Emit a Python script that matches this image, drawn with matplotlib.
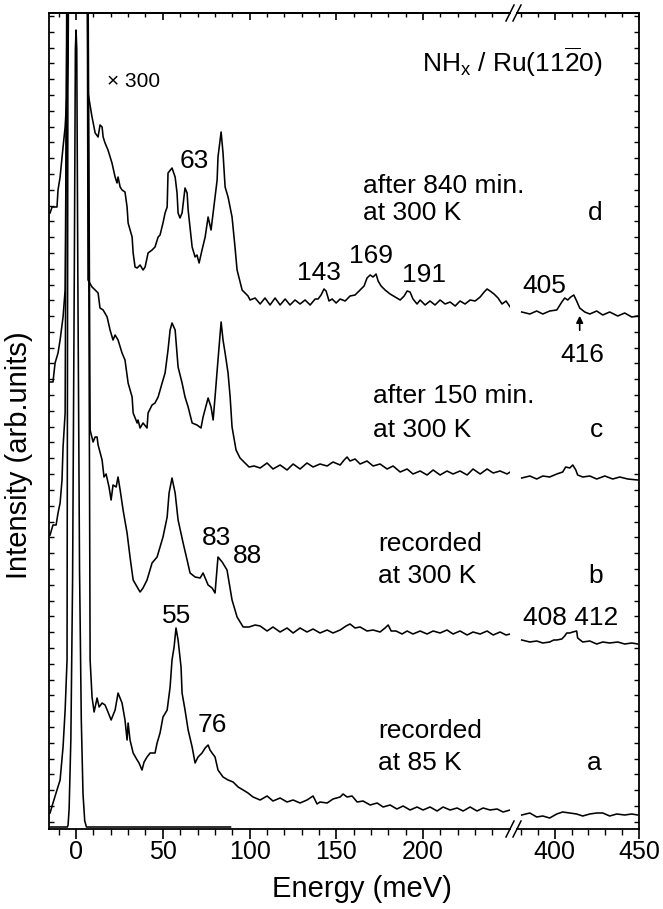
import matplotlib
matplotlib.use("Agg")
import matplotlib.pyplot as plt
from matplotlib.lines import Line2D
import numpy as np

plt.rcParams['font.family'] = ['Liberation Sans', 'DejaVu Sans']
plt.rcParams['mathtext.fontset'] = 'custom'
plt.rcParams['mathtext.rm'] = 'Liberation Sans'
plt.rcParams['mathtext.it'] = 'Liberation Sans:italic'

# ---------------- data (energy in meV, intensity in arb. units) ----------------
# elastic peak, unscaled (x1)
el_E = [-15.6, -5.0, -4.6, -4.0, -3.0, -2.0, -1.0, -0.4, 0.0, 0.4, 1.0, 2.0, 3.0, 4.0, 5.0, 6.0, 89.0]
el_I = [2, 2, 4, 20, 90, 250, 560, 780, 799, 780, 560, 260, 110, 35, 8, 2, 2]

# spectrum d (x300), left part
d_E = [-15.0, -13.8, -11.0, -10.4, -9.2, -7.5, -6.3, -5.2, -4.6, -3.8, 6.0, 6.9, 9.2, 11.0, 12.7, 13.8, 15.0,
       15.6, 16.7, 18.4, 20.7, 22.5, 23.6, 24.2, 25.4, 26.5, 28.2, 29.4, 30.0, 32.3, 32.9, 34.0, 35.2, 36.9,
       38.6, 39.8, 41.5, 43.8, 45.5, 47.3, 48.4, 50.1, 51.3, 52.5, 53.0, 55.3, 57.1, 58.2, 58.8, 59.9, 61.1,
       62.8, 64.0, 64.6, 66.9, 68.6, 69.7, 70.9, 72.6, 74.4, 76.1, 77.8, 79.0, 81.3, 81.8, 83.6, 84.7, 85.9,
       87.6, 89.9, 91.6, 92.8, 95.7, 97.4, 99.1, 100.3, 103.2,
       106.1, 108.9, 111.8, 114.7, 117.6, 120.5, 123.3, 126.2, 129.1, 132.0, 134.9, 137.8, 139.5, 141.2,
       142.9, 144.1, 145.8, 147.6, 149.9, 152.2, 155.1, 157.9, 160.8, 163.7, 166.0, 167.7, 169.5, 171.2,
       172.9, 174.1, 175.8, 178.1, 181.0, 183.9, 186.8, 189.1, 190.8, 192.5, 194.2, 196.5, 198.3, 201.2,
       204.0, 206.9, 209.8, 212.7, 215.6, 218.5, 221.3, 224.2, 227.1, 230.0, 232.9, 235.2, 236.9, 238.6,
       240.9, 243.2, 245.5, 247.8, 250.2]
d_I = [616, 622, 622, 639, 652, 682, 702, 736, 769, 1000, 1000, 736, 712, 696, 692, 704, 702,
       692, 686, 679, 666, 652, 646, 652, 642, 639, 637, 622, 606, 592, 576, 562, 561, 564,
       559, 562, 576, 579, 582, 592, 594, 606, 616, 622, 656, 661, 652, 636, 616, 611, 616,
       641, 636, 619, 582, 572, 574, 566, 579, 592, 612, 599, 616, 649, 672, 697, 676, 642,
       632, 612, 582, 559, 539, 536, 533, 529, 531,
       525, 531, 524, 531, 524, 530, 524, 529, 525, 529, 524, 530, 530, 534,
       540, 538, 528, 530, 526, 530, 528, 533, 534, 539, 543, 551, 554, 552,
       555, 548, 543, 539, 535, 532, 529, 533, 538, 537, 530, 525, 529, 524,
       528, 524, 529, 525, 527, 523, 528, 525, 529, 528, 532, 537, 540, 538,
       535, 531, 525, 528, 522]
# spectrum d, right part
dR_E = [380.4, 385.2, 389.3, 392.9, 397.0, 401.2, 404.2, 405.9, 407.7, 409.5, 411.3, 413.0, 414.8,
        417.8, 420.8, 424.9, 428.5, 432.6, 437.4, 441.5, 445.7, 449.2]
dR_I = [517, 515, 518, 515, 518, 519, 527, 531, 529, 532, 534, 528, 521,
        517, 515, 518, 514, 517, 513, 516, 512, 513]

# spectrum c (x300), left part
c_E = [-15.0, -13.3, -12.1, -10.4, -9.2, -7.5, -6.3, -4.5, 6.3, 6.9, 9.2, 11.0, 12.7, 13.8, 15.6, 17.9,
       19.6, 21.3, 22.5, 24.2, 26.5, 28.2, 30.0, 32.3, 32.9, 35.2, 35.7, 36.9, 38.6, 40.9, 41.5, 43.8,
       45.5, 47.3, 49.6, 51.3, 53.0, 54.2, 55.3, 57.1, 58.8, 61.1, 62.8, 64.6, 66.9, 69.7, 72.0, 73.2,
       76.1, 77.8, 79.0, 80.1, 81.8, 83.6, 84.7, 85.9, 87.6, 88.8, 89.9, 92.2, 94.5, 96.8, 99.7, 102.6,
       106.1, 110.1, 113.5, 117.6, 121.6, 125.1, 129.1, 133.1, 136.6, 140.6, 144.7, 148.1, 152.2, 154.5,
       156.2, 157.9, 160.8, 163.7, 167.7, 171.2, 175.2, 179.3, 182.7, 186.8, 190.8, 194.2, 198.3, 202.3,
       205.8, 209.8, 213.8, 217.3, 221.3, 225.4, 228.8, 232.9, 236.9, 240.4, 244.4, 248.4, 250.2]
c_I = [447, 447, 466, 476, 489, 512, 539, 1000, 1000, 549, 542, 539, 536, 521, 519, 512,
       499, 489, 494, 489, 476, 469, 446, 432, 416, 406, 409, 401, 406, 401, 416, 424,
       426, 432, 446, 456, 479, 499, 506, 499, 462, 446, 432, 422, 406, 404, 401, 412,
       431, 422, 409, 432, 469, 507, 489, 476, 456, 432, 402, 379, 371, 367, 362, 363,
       361, 366, 360, 364, 359, 365, 360, 366, 362, 365, 363, 367, 364, 369,
       372, 368, 370, 365, 368, 363, 365, 360, 363, 357, 360, 355, 358, 354,
       359, 354, 358, 355, 358, 354, 360, 355, 360, 356, 358, 355, 357]
cR_E = [380.4, 385.2, 389.3, 392.9, 397.0, 401.2, 404.7, 406.5, 408.9, 410.7, 412.5, 413.6, 416.6,
        420.8, 424.9, 429.7, 434.4, 438.6, 443.3, 449.2]
cR_I = [351, 353, 350, 353, 352, 355, 357, 362, 361, 364, 359, 354, 352,
        353, 350, 353, 350, 352, 350, 349]

# spectrum b (x300), left part
b_E = [-15.0, -13.3, -11.5, -10.4, -9.2, -8.1, -7.5, -6.3, -5.0, 6.5, 8.1, 9.8, 11.0, 12.1, 12.7, 15.0,
       16.1, 17.3, 19.0, 20.2, 21.3, 23.1, 24.2, 25.4, 27.1, 29.4, 31.1, 32.9, 35.2, 36.9, 38.6, 40.9,
       43.8, 46.7, 48.4, 50.1, 52.5, 53.6, 55.3, 57.1, 58.8, 61.7, 64.0, 65.7, 68.6, 71.5, 73.2, 74.9,
       76.1, 78.4, 80.1, 81.8, 84.2, 87.0, 89.9, 92.8, 96.3, 99.7, 103.2,
       106.1, 110.1, 113.5, 117.6, 121.6, 125.1, 129.1, 133.1, 136.6, 140.6, 144.7, 148.1, 152.2, 155.6,
       157.9, 160.8, 163.7, 167.7, 171.2, 175.2, 178.1, 179.9, 181.6, 184.4, 187.9, 190.8, 194.2, 198.3,
       202.3, 205.8, 209.8, 213.8, 217.3, 221.3, 225.4, 228.8, 232.9, 236.9, 240.4, 244.4, 247.8, 250.2]
b_I = [294, 304, 304, 316, 326, 349, 382, 416, 1000, 1000, 399, 387, 392, 392, 384, 369,
       352, 355, 342, 329, 344, 342, 352, 339, 319, 296, 272, 249, 242, 237, 241, 249,
       266, 272, 282, 292, 312, 336, 351, 336, 309, 286, 269, 256, 252, 251, 256, 249,
       244, 241, 236, 272, 267, 259, 229, 212, 202, 202, 204,
       203, 198, 202, 197, 201, 196, 201, 197, 200, 196, 199, 196, 199, 203,
       205, 201, 202, 198, 199, 197, 201, 204, 198, 198, 195, 198, 195, 198,
       195, 198, 196, 199, 195, 198, 194, 197, 195, 198, 194, 197, 194, 195]
bR_E = [380.4, 385.2, 389.3, 392.9, 397.0, 399.4, 401.2, 404.2, 405.9, 407.1, 408.9, 410.7, 413.0,
        413.6, 416.6, 420.8, 424.9, 428.5, 432.6, 437.4, 441.5, 445.7, 449.2]
bR_I = [189, 187, 188, 186, 187, 189, 189, 190, 193, 196, 196, 197, 198,
        191, 187, 188, 185, 187, 186, 187, 185, 186, 185]

# spectrum a (x300), left part
a_E = [-15.0, -13.3, -11.0, -9.2, -7.5, -6.3, -5.2, -4.5, 6.5, 8.1, 9.2, 10.4, 12.1, 13.3, 15.0, 16.7,
       18.4, 20.2, 22.5, 24.2, 26.5, 28.2, 29.4, 30.0, 31.1, 32.9, 35.2, 36.3, 38.0, 39.2, 40.9, 42.7,
       45.5, 46.7, 48.4, 50.1, 52.5, 54.2, 55.3, 56.5, 57.6, 58.8, 60.5, 61.1, 62.8, 64.6, 66.9, 68.6,
       70.3, 72.6, 74.4, 76.1, 77.2, 78.4, 80.1, 81.8, 84.7, 87.6, 90.5, 93.4, 96.3, 99.1, 102.0,
       106.1, 110.1, 113.5, 117.6, 121.6, 125.1, 129.1, 133.1, 136.6, 138.9, 140.6, 144.7, 148.1, 152.2,
       153.9, 156.2, 159.1, 162.0, 165.4, 169.5, 173.5, 177.0, 181.0, 184.9, 188.5, 192.5, 196.5, 200.0,
       204.0, 208.1, 211.5, 215.6, 219.6, 223.1, 227.1, 231.1, 234.6, 238.6, 242.7, 246.1, 250.2]
a_I = [16, 26, 39, 49, 82, 119, 169, 1000, 1000, 169, 132, 117, 131, 122, 126, 124,
       117, 109, 119, 136, 126, 109, 89, 106, 89, 76, 69, 66, 59, 67, 72, 76,
       76, 86, 96, 112, 119, 142, 169, 182, 201, 189, 162, 136, 119, 99, 82, 66,
       72, 76, 81, 84, 79, 76, 72, 59, 52, 49, 47, 42, 39, 36, 32,
       29, 33, 28, 31, 27, 29, 26, 29, 33, 25, 27, 26, 30, 32,
       35, 32, 33, 27, 28, 24, 26, 22, 24, 20, 23, 19, 22, 19,
       22, 18, 22, 19, 21, 18, 22, 18, 21, 19, 20, 17, 19]
aR_E = [380.4, 385.2, 389.3, 392.9, 397.0, 401.2, 404.7, 408.9, 413.0, 416.6, 420.8, 424.9, 428.5,
        432.6, 436.8, 441.5, 445.7, 449.2]
aR_I = [14, 16, 12, 13, 11, 15, 17, 16, 15, 13, 15, 16, 16,
        13, 15, 14, 15, 14]

left_ticks = [0, 50, 100, 150, 200]
right_ticks = [400, 450]

# ---------------- figure ----------------
W, H = 663, 909
fig = plt.figure(figsize=(W / 100, H / 100), dpi=100)

def fx(px):
    return px / W

def fy(py):
    return 1 - py / H

ax_l, ax_r_px, ax_t, ax_b = 49, 639, 13, 829
brk1, brk2 = 510, 517
ax1 = fig.add_axes([fx(ax_l), fy(ax_b), fx(brk1 - ax_l), (ax_b - ax_t) / H])
ax2 = fig.add_axes([fx(brk2), fy(ax_b), fx(ax_r_px - brk2), (ax_b - ax_t) / H])

lw = 1.15
for ax in (ax1, ax2):
    ax.set_ylim(0, 816)
    ax.set_facecolor('none')
    for s in ax.spines.values():
        s.set_linewidth(1.3)

ax1.plot(el_E, el_I, color='k', lw=lw)
ax1.plot(d_E, d_I, color='k', lw=lw)
ax1.plot(c_E, c_I, color='k', lw=lw)
ax1.plot(b_E, b_I, color='k', lw=lw)
ax1.plot(a_E, a_I, color='k', lw=lw)
ax2.plot(dR_E, dR_I, color='k', lw=lw)
ax2.plot(cR_E, cR_I, color='k', lw=lw)
ax2.plot(bR_E, bR_I, color='k', lw=lw)
ax2.plot(aR_E, aR_I, color='k', lw=lw)

ax1.set_xlim(-15.6, 250.1)
ax2.set_xlim(377.6, 450)

ax1.spines['right'].set_visible(False)
ax2.spines['left'].set_visible(False)

ytick_pos = np.arange(7.3, 816, 15.8)
ax1.set_yticks(ytick_pos)
ax2.set_yticks(ytick_pos)
ax1.tick_params(axis='y', left=True, right=False, labelleft=False, direction='in', length=3.5, width=1.0)
ax2.tick_params(axis='y', left=False, right=True, labelleft=False, labelright=False, direction='in', length=3.5, width=1.0)

ax1.set_xticks(left_ticks)
ax1.set_xticks(np.arange(-10, 245, 10), minor=True)
ax2.set_xticks(right_ticks)
ax2.set_xticks(np.arange(380, 450, 10), minor=True)
for ax in (ax1, ax2):
    ax.tick_params(axis='x', which='major', direction='out', length=7, width=1.2, labelsize=18, pad=1)
    ax.tick_params(axis='x', which='minor', direction='out', length=4, width=1.0)

# top ticks (inward)
for ax, mj, mn in ((ax1, [0, 50, 100, 150, 200], np.arange(-10, 245, 10)),
                   (ax2, right_ticks, np.arange(380, 450, 10))):
    sec = ax.secondary_xaxis('top')
    sec.set_xticks(mj)
    sec.set_xticks(mn, minor=True)
    sec.tick_params(axis='x', which='major', direction='in', length=5, width=1.2, labeltop=False)
    sec.tick_params(axis='x', which='minor', direction='in', length=3, width=1.0)
    sec.spines['top'].set_linewidth(1.3)

# break marks
for cx in (brk1, brk2):
    for cy in (ax_t, ax_b):
        fig.add_artist(Line2D([fx(cx - 4), fx(cx + 4)], [fy(cy + 8), fy(cy - 8)],
                              transform=fig.transFigure, color='k', lw=1.1))

# ---------------- texts ----------------
fs = 19
def txt(x, y, s, size=fs):
    ax1.text(x, y, s, fontsize=size, ha='left', va='baseline', clip_on=False, zorder=5)

txt(17.9, 742, '× 300', size=15)
txt(199.4, 757, r'NH$_\mathrm{x}$ / Ru(11$\overline{\mathrm{2}}$0)')
txt(59.9, 661, '63')
txt(165.4, 636, 'after 840 min.')
txt(165.4, 609, 'at 300 K')
txt(295.1, 609, 'd')
txt(127.4, 549, '143')
txt(157.3, 566, '169')
txt(187.9, 547, '191')
txt(257.1, 536, '405')
txt(279.0, 467, '416')
txt(171.2, 426, 'after 150 min.')
txt(171.2, 392, 'at 300 K')
txt(296.3, 392, 'c')
txt(72.6, 284, '83')
txt(90.5, 266, '88')
txt(174.1, 278, 'recorded')
txt(174.1, 246, 'at 300 K')
txt(295.1, 246, 'b')
txt(257.6, 204, '408 412')
txt(49.6, 206, '55')
txt(70.3, 97, '76')
txt(174.1, 91, 'recorded')
txt(174.1, 59, 'at 85 K')
txt(294.5, 59, 'a')

ax2.annotate('', xy=(414.8, 516), xytext=(414.8, 496),
             arrowprops=dict(arrowstyle='-|>', color='k', lw=1.2, mutation_scale=10))

fig.text(fx(362), fy(897), 'Energy (meV)', fontsize=21, ha='center', va='baseline')
fig.text(fx(19), fy(455), 'Intensity (arb.units)', fontsize=21, ha='center', va='center', rotation=90)

fig.savefig('out.png', dpi=100)
